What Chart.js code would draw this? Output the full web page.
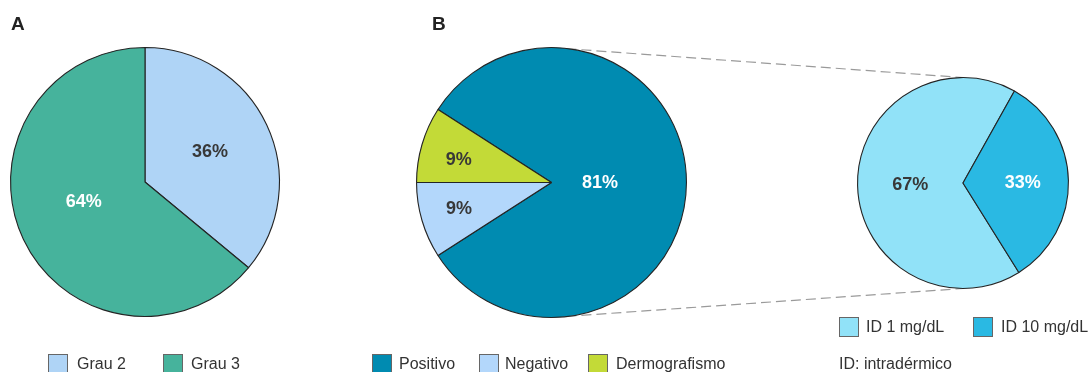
<!DOCTYPE html>
<html>
<head>
<meta charset="utf-8">
<script src="https://cdn.jsdelivr.net/npm/chart.js@4.4.1/dist/chart.umd.min.js"></script>
<style>
  body { margin: 0; background: #fff; }
  #stage { position: relative; width: 1089px; height: 372px; overflow: hidden;
           font-family: "Liberation Sans", Arial, Helvetica, sans-serif; color: #333; }
  #stage canvas { position: absolute; }
  .panel { position: absolute; font-weight: bold; font-size: 19px; line-height: 20px; color: #222; }
  .sw { position: absolute; box-sizing: border-box; width: 20px; height: 20px; border: 1px solid #666; }
  .lt { position: absolute; font-size: 16px; line-height: 20px; white-space: nowrap; color: #333; }
</style>
</head>
<body>
<div id="stage">
  <canvas id="links" width="1089" height="372" style="left:0;top:0;z-index:0"></canvas>
  <canvas id="pieGrade" style="z-index:1"></canvas>
  <canvas id="pieTest" style="z-index:1"></canvas>
  <canvas id="pieDose" style="z-index:1"></canvas>
  <div class="panel" style="left:11px;top:14px">A</div>
  <div class="panel" style="left:432px;top:14px">B</div>
  <div class="lt" style="left:839px;top:354px">ID: intradérmico</div>
</div>
<script>
// Panel A: urticaria grade
const gradeLabels = ['Grau 2', 'Grau 3'];
const gradeValues = [36, 64];
const gradeColors = ['#afd4f6', '#46b39c'];

// Panel B: test result
const testLabels = ['Positivo', 'Negativo', 'Dermografismo'];
const testValues = [81, 9, 9];
const testColors = ['#008bb1', '#b3d7fb', '#c3da37'];

// Breakdown of positive results by intradermal dose
const doseLabels = ['ID 1 mg/dL', 'ID 10 mg/dL'];
const doseValues = [67, 33];
const doseColors = ['#91e2f8', '#2ab9e3'];

const DARK = '#383838';
const LIGHT = '#ffffff';

// Percentage labels placed inside each slice
const sliceLabels = {
  id: 'sliceLabels',
  afterDatasetsDraw(chart, args, opts) {
    const ctx = chart.ctx;
    const meta = chart.getDatasetMeta(0);
    const values = chart.data.datasets[0].data;
    ctx.save();
    ctx.font = 'bold 18px "Liberation Sans", Arial, Helvetica, sans-serif';
    ctx.textAlign = 'center';
    ctx.textBaseline = 'middle';
    meta.data.forEach((arc, i) => {
      const p = arc.getProps(['x', 'y', 'startAngle', 'endAngle', 'outerRadius'], true);
      const a = (p.startAngle + p.endAngle) / 2 + (opts.shift[i] || 0) * Math.PI / 180;
      const r = p.outerRadius * opts.radius[i];
      ctx.fillStyle = opts.colors[i];
      ctx.fillText(values[i] + '%', p.x + Math.cos(a) * r, p.y + Math.sin(a) * r + 1);
    });
    ctx.restore();
  }
};

function sum(a) { return a.reduce((s, v) => s + v, 0); }

const layout = {
  grade: { left: 5, top: 42, size: 280, rotation: 0,
           radius: [0.535, 0.476], shift: [0, 8], text: [DARK, LIGHT],
           legendTop: 354, legendX: [[48, 77], [163, 191]] },
  test:  { left: 411, top: 42, size: 281,
           // Dermografismo begins exactly at the left horizontal
           rotation: 270 - sum(testValues.slice(0, 2)) / sum(testValues) * 360,
           radius: [0.36, 0.71, 0.71], shift: [0, 1, -2], text: [LIGHT, DARK, DARK],
           legendTop: 354, legendX: [[372, 399], [479, 505], [588, 616]] },
  dose:  { left: 852, top: 72, size: 222, rotation: 148,
           radius: [0.5, 0.567], shift: [0, 0], text: [DARK, LIGHT],
           legendTop: 317, legendX: [[839, 866], [973, 1001]] }
};

function makePie(id, labels, values, colors, cfg) {
  const cv = document.getElementById(id);
  cv.width = cfg.size; cv.height = cfg.size;
  cv.style.width = cfg.size + 'px'; cv.style.height = cfg.size + 'px';
  cv.style.left = cfg.left + 'px'; cv.style.top = cfg.top + 'px';
  const chart = new Chart(cv, {
    type: 'pie',
    data: { labels: labels, datasets: [{ data: values, backgroundColor: colors,
            borderColor: '#242424', borderWidth: 1.1 }] },
    options: {
      responsive: false, animation: false, events: [],
      rotation: cfg.rotation,
      layout: { padding: 5 },
      plugins: {
        legend: { display: false },
        tooltip: { enabled: false },
        sliceLabels: { radius: cfg.radius, shift: cfg.shift, colors: cfg.text }
      }
    },
    plugins: [sliceLabels]
  });
  // HTML legend row under the pie
  const stage = document.getElementById('stage');
  labels.forEach((lab, i) => {
    const sw = document.createElement('div');
    sw.className = 'sw';
    sw.style.left = cfg.legendX[i][0] + 'px';
    sw.style.top = cfg.legendTop + 'px';
    sw.style.background = colors[i];
    stage.appendChild(sw);
    const t = document.createElement('div');
    t.className = 'lt';
    t.style.left = cfg.legendX[i][1] + 'px';
    t.style.top = cfg.legendTop + 'px';
    t.textContent = lab;
    stage.appendChild(t);
  });
  return chart;
}

const gradeChart = makePie('pieGrade', gradeLabels, gradeValues, gradeColors, layout.grade);
const testChart = makePie('pieTest', testLabels, testValues, testColors, layout.test);
const doseChart = makePie('pieDose', doseLabels, doseValues, doseColors, layout.dose);

// Dashed connectors from pie B to the dose breakdown pie
function pieGeom(chart, cfg) {
  const arc = chart.getDatasetMeta(0).data[0];
  return { x: cfg.left + arc.x, y: cfg.top + arc.y, r: arc.outerRadius };
}
const src = pieGeom(testChart, layout.test);
const dst = pieGeom(doseChart, layout.dose);
const lctx = document.getElementById('links').getContext('2d');
lctx.strokeStyle = '#9a9a9a';
lctx.lineWidth = 1.2;
lctx.setLineDash([10, 5]);
[-1, 1].forEach(s => {
  lctx.beginPath();
  lctx.moveTo(src.x, src.y + s * src.r);
  lctx.lineTo(dst.x, dst.y + s * dst.r);
  lctx.stroke();
});
</script>
</body>
</html>
